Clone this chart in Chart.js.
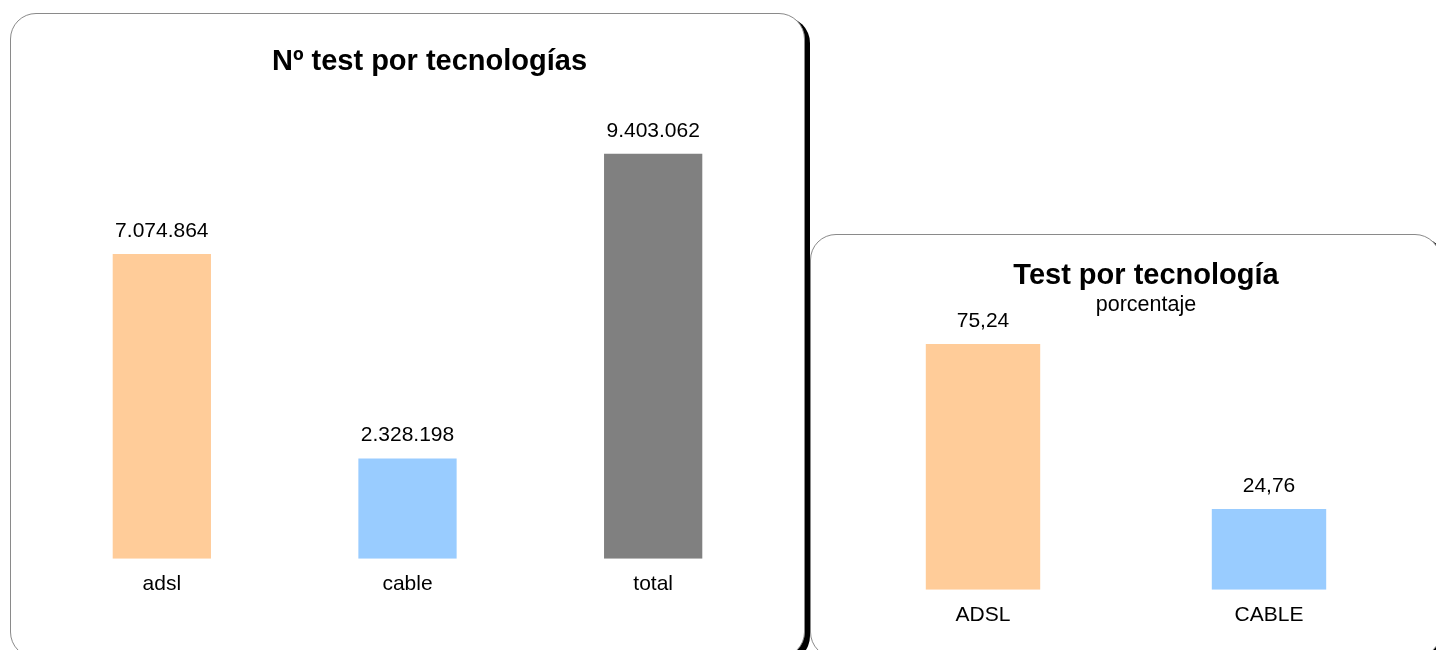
<!DOCTYPE html>
<html>
<head>
<meta charset="utf-8">
<script src="https://cdn.jsdelivr.net/npm/chart.js@4.4.0/dist/chart.umd.min.js"></script>
<style>
  body { margin: 0; background: #fff; width: 1436px; height: 650px; overflow: hidden; position: relative; }
  .panel { position: absolute; border: 1.5px solid #8a8a8a; border-radius: 26px; background: #fff; box-shadow: 5px 4px 0 #000; box-sizing: border-box; }
  canvas { position: absolute; }
</style>
</head>
<body>
<div class="panel" style="left:10px; top:13px; width:795px; height:645px;"></div>
<div class="panel" style="left:810px; top:234px; width:631px; height:424px;"></div>
<canvas id="techCount" style="left:10px; top:13px;" width="796" height="600"></canvas>
<canvas id="techPercent" style="left:810px; top:234px;" width="626" height="416"></canvas>
<script>
// Chart data
const countLabels = ['adsl', 'cable', 'total'];
const countValues = [7074864, 2328198, 9403062];
const countColors = ['#FFCC99', '#99CCFF', '#808080'];

const percentLabels = ['ADSL', 'CABLE'];
const percentValues = [75.24, 24.76];
const percentColors = ['#FFCC99', '#99CCFF'];

const FONT = "'Liberation Sans', Arial, sans-serif";

/**
 * Format numbers the Spanish way (dots for thousands, comma decimals)
 */
function formatThousands(v) {
    return String(v).replace(/\B(?=(\d{3})+(?!\d))/g, '.');
}
function formatDecimal(v) {
    return v.toFixed(2).replace('.', ',');
}

/**
 * Draw value labels above each bar
 */
const valueLabels = {
    id: 'valueLabels',
    afterDatasetsDraw(chart, args, opts) {
        const ctx = chart.ctx;
        const meta = chart.getDatasetMeta(0);
        const data = chart.data.datasets[0].data;
        ctx.save();
        ctx.font = '21px ' + FONT;
        ctx.fillStyle = '#000';
        ctx.textAlign = 'center';
        ctx.textBaseline = 'middle';
        meta.data.forEach(function(bar, i) {
            ctx.fillText(opts.format(data[i]), bar.x, bar.y - 23);
        });
        ctx.restore();
    }
};

/**
 * Titles in the original sit a little right of centre
 */
const titleShift = {
    id: 'titleShift',
    afterLayout(chart, args, opts) {
        chart.boxes.forEach(function(box) {
            if (box.options && typeof box.options.text === 'string') {
                box.left += opts.dx;
                box.right += opts.dx;
            }
        });
    }
};

function barOptions(cfg) {
    return {
        responsive: false,
        animation: false,
        layout: { padding: cfg.padding },
        plugins: {
            legend: { display: false },
            tooltip: { enabled: false },
            title: {
                display: true,
                text: cfg.title,
                color: '#000',
                font: { family: FONT, size: 29, weight: 'bold', lineHeight: 1 },
                padding: cfg.titlePadding
            },
            subtitle: cfg.subtitle ? {
                display: true,
                text: cfg.subtitle,
                color: '#000',
                font: { family: FONT, size: 21.5, lineHeight: 1 },
                padding: cfg.subtitlePadding
            } : { display: false },
            valueLabels: { format: cfg.format },
            titleShift: { dx: cfg.titleDx }
        },
        scales: {
            x: {
                grid: { display: false, drawTicks: false },
                border: { display: false },
                ticks: { color: '#000', padding: 13, font: { family: FONT, size: 21 } }
            },
            y: { display: false, min: 0, max: cfg.max }
        }
    };
}

new Chart(document.getElementById('techCount'), {
    type: 'bar',
    data: {
        labels: countLabels,
        datasets: [{
            data: countValues,
            backgroundColor: countColors,
            barPercentage: 0.4,
            categoryPercentage: 1.0
        }]
    },
    options: barOptions({
        title: 'Nº test por tecnologías',
        titlePadding: { top: 34, bottom: 52 },
        titleDx: 22,
        padding: { left: 29, right: 30, top: 0, bottom: 3 },
        max: 10000000,
        format: formatThousands
    }),
    plugins: [valueLabels, titleShift]
});

new Chart(document.getElementById('techPercent'), {
    type: 'bar',
    data: {
        labels: percentLabels,
        datasets: [{
            data: percentValues,
            backgroundColor: percentColors,
            barPercentage: 0.4,
            categoryPercentage: 1.0
        }]
    },
    options: barOptions({
        title: 'Test por tecnología',
        titlePadding: { top: 27, bottom: 0 },
        subtitle: 'porcentaje',
        subtitlePadding: { top: 4, bottom: 13 },
        titleDx: 20,
        padding: { left: 30, right: 24, top: 0, bottom: 9 },
        max: 80,
        format: formatDecimal
    }),
    plugins: [valueLabels, titleShift]
});
</script>
</body>
</html>
